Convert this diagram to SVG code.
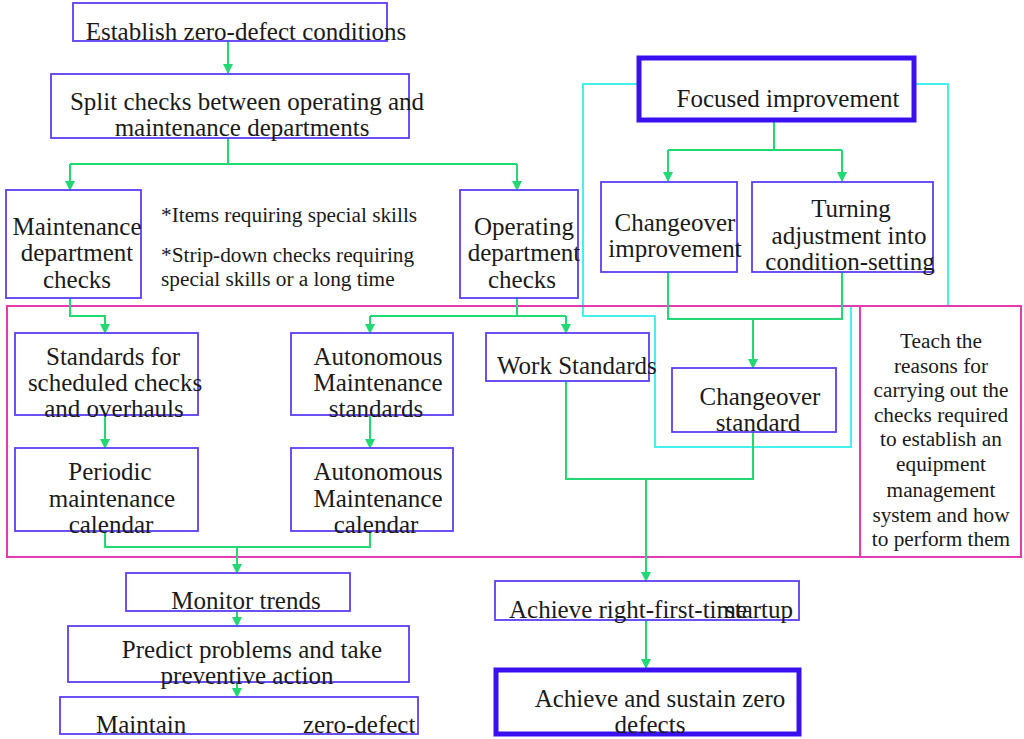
<svg xmlns="http://www.w3.org/2000/svg" width="1024" height="739" viewBox="0 0 1024 739">
<style>
.box{fill:none;stroke:#5a3ff5;stroke-width:1.8}
.thick{fill:none;stroke:#3a10f0;stroke-width:5}
.c{fill:none;stroke:#22d872;stroke-width:2}
.cy{fill:none;stroke:#44f0f0;stroke-width:2}
.pk{fill:none;stroke:#e43cb0;stroke-width:2}
text{font-family:"Liberation Serif","Times New Roman",serif;fill:#1a1a1a;font-size:25px}
.m{text-anchor:middle}
.s{font-size:21.3px}
</style>
<defs>
<marker id="ah" markerWidth="10" markerHeight="10" refX="9" refY="5" orient="auto" markerUnits="userSpaceOnUse">
<path d="M0,0 L10,5 L0,10 Z" fill="#22d872"/>
</marker>
</defs>
<rect width="1024" height="739" fill="#ffffff"/>
<g id="frames">
<path class="cy" d="M637 84 H583 V316 H655 V447 H851 V306 H948 V84 H916"/>
<rect class="pk" x="7" y="306" width="1014" height="251"/>
<line class="pk" x1="860" y1="306" x2="860" y2="557"/>
</g>
<g id="connectors">
<path class="c" d="M228 41 V73" marker-end="url(#ah)"/>
<path class="c" d="M228 138 V164 M70 164 H517"/>
<path class="c" d="M70 164 V190" marker-end="url(#ah)"/>
<path class="c" d="M517 164 V190" marker-end="url(#ah)"/>
<path class="c" d="M774 120 V150 M668 150 H842"/>
<path class="c" d="M668 150 V181" marker-end="url(#ah)"/>
<path class="c" d="M842 150 V181" marker-end="url(#ah)"/>
<path class="c" d="M70 298 V316 H105 V333" marker-end="url(#ah)"/>
<path class="c" d="M517 298 V316 M370 316 H566"/>
<path class="c" d="M370 316 V333" marker-end="url(#ah)"/>
<path class="c" d="M566 316 V333" marker-end="url(#ah)"/>
<path class="c" d="M105 415 V448" marker-end="url(#ah)"/>
<path class="c" d="M370 415 V448" marker-end="url(#ah)"/>
<path class="c" d="M105 531 V547 H370 V531"/>
<path class="c" d="M237 547 V573" marker-end="url(#ah)"/>
<path class="c" d="M237 611 V626" marker-end="url(#ah)"/>
<path class="c" d="M237 682 V697" marker-end="url(#ah)"/>
<path class="c" d="M668 272 V319 H842 V272"/>
<path class="c" d="M753 319 V368" marker-end="url(#ah)"/>
<path class="c" d="M566 381 V479 H753 V432"/>
<path class="c" d="M646 479 V581" marker-end="url(#ah)"/>
<path class="c" d="M646 620 V668" marker-end="url(#ah)"/>
</g>
<g id="n1"><rect class="box" x="73" y="3" width="314" height="38"/><text class="m" x="246" y="40">Establish zero-defect conditions</text></g>
<g id="n2"><rect class="box" x="51" y="74" width="358" height="64"/><text class="m" x="247" y="110">Split checks between operating and</text><text class="m" x="242" y="136">maintenance departments</text></g>
<g id="n3"><rect class="box" x="6" y="190" width="135" height="108"/><text class="m" x="77" y="235">Maintenance</text><text class="m" x="77" y="261">department</text><text class="m" x="77" y="288">checks</text></g>
<g id="notes"><text class="s" x="161" y="222">*Items requiring special skills</text><text class="s" x="161" y="262">*Strip-down checks requiring</text><text class="s" x="161" y="286">special skills or a long time</text></g>
<g id="n4"><rect class="box" x="460" y="190" width="118" height="108"/><text class="m" x="524" y="235">Operating</text><text class="m" x="524" y="261">department</text><text class="m" x="522" y="288">checks</text></g>
<g id="n5"><rect class="thick" x="639" y="58" width="275" height="62"/><text class="m" x="788" y="107">Focused improvement</text></g>
<g id="n6"><rect class="box" x="601" y="182" width="136" height="90"/><text class="m" x="675" y="231">Changeover</text><text class="m" x="675" y="257">improvement</text></g>
<g id="n7"><rect class="box" x="752" y="182" width="181" height="90"/><text class="m" x="851" y="217">Turning</text><text class="m" x="849" y="244">adjustment into</text><text class="m" x="850" y="270">condition-setting</text></g>
<g id="n8"><rect class="box" x="15" y="333" width="183" height="82"/><text class="m" x="113" y="365">Standards for</text><text class="m" x="115" y="391">scheduled checks</text><text class="m" x="114" y="417">and overhauls</text></g>
<g id="n9"><rect class="box" x="15" y="448" width="183" height="83"/><text class="m" x="110" y="480">Periodic</text><text class="m" x="112" y="507">maintenance</text><text class="m" x="111" y="533">calendar</text></g>
<g id="n10"><rect class="box" x="291" y="333" width="162" height="82"/><text class="m" x="378" y="365">Autonomous</text><text class="m" x="378" y="391">Maintenance</text><text class="m" x="376" y="417">standards</text></g>
<g id="n11"><rect class="box" x="291" y="448" width="162" height="83"/><text class="m" x="378" y="480">Autonomous</text><text class="m" x="378" y="507">Maintenance</text><text class="m" x="376" y="533">calendar</text></g>
<g id="n12"><rect class="box" x="486" y="333" width="163" height="48"/><text x="497" y="374">Work Standards</text></g>
<g id="n13"><rect class="box" x="672" y="368" width="164" height="64"/><text class="m" x="760" y="405">Changeover</text><text class="m" x="758" y="431">standard</text></g>
<g id="n14"><text class="m s" x="941" y="348">Teach the</text><text class="m s" x="941" y="373">reasons for</text><text class="m s" x="941" y="397">carrying out the</text><text class="m s" x="941" y="422">checks required</text><text class="m s" x="941" y="446">to establish an</text><text class="m s" x="941" y="471">equipment</text><text class="m s" x="941" y="497">management</text><text class="m s" x="941" y="522">system and how</text><text class="m s" x="941" y="546">to perform them</text></g>
<g id="n15"><rect class="box" x="126" y="573" width="224" height="38"/><text class="m" x="246" y="609">Monitor trends</text></g>
<g id="n16"><rect class="box" x="68" y="626" width="341" height="56"/><text class="m" x="252" y="658">Predict problems and take</text><text class="m" x="247" y="684">preventive action</text></g>
<g id="n17"><rect class="box" x="60" y="697" width="358" height="37"/><text y="733"><tspan x="96">Maintain</tspan><tspan x="303">zero-defect</tspan></text></g>
<g id="n18"><rect class="box" x="495" y="581" width="304" height="39"/><text y="618"><tspan x="509">Achieve right-first-time</tspan><tspan x="725">startup</tspan></text></g>
<g id="n19"><rect class="thick" x="496" y="670" width="303" height="64"/><text class="m" x="660" y="707">Achieve and sustain zero</text><text class="m" x="650" y="733">defects</text></g>
</svg>
